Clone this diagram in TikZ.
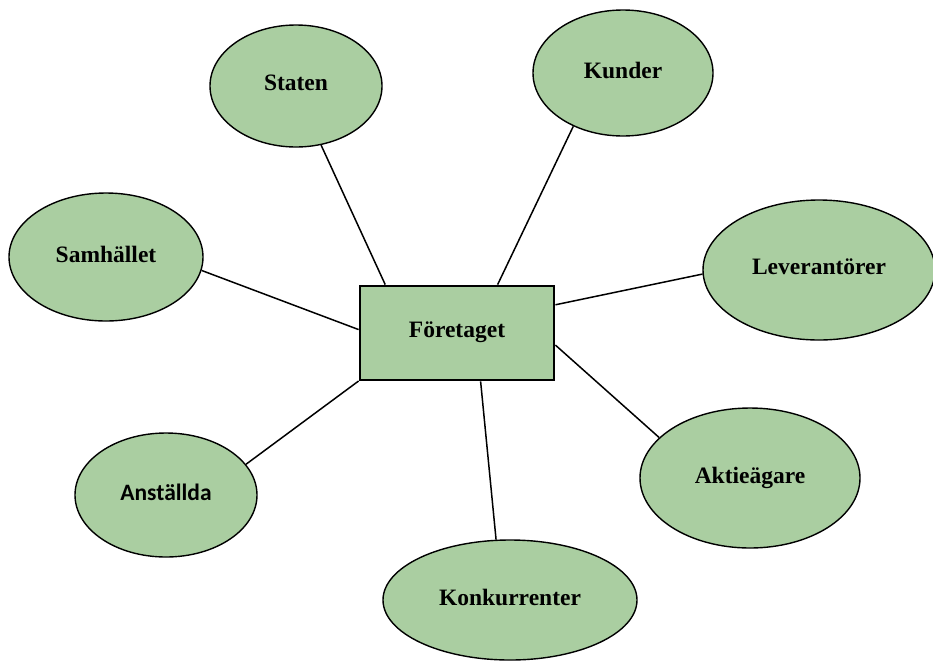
\documentclass[tikz,border=0pt]{standalone}
\usepackage{fontspec}
\setmainfont{Liberation Serif}
\newfontfamily\carlitofont{Carlito}
\usetikzlibrary{shapes.geometric}
\definecolor{sage}{RGB}{170,206,161}
\tikzset{
  oval/.style={ellipse, draw=black, line width=1.4pt, fill=sage, inner sep=0pt,
    font=\fontsize{23.5}{28}\selectfont\bfseries},
  hub/.style={rectangle, draw=black, line width=2.8pt, fill=sage, inner sep=0pt,
    minimum width=194pt, minimum height=94pt, font=\fontsize{23.5}{28}\selectfont\bfseries},
  link/.style={line width=1.5pt, black}
}
\newcommand{\up}[1]{\raisebox{6pt}{#1}}
\begin{document}
\begin{tikzpicture}[x=1pt,y=-1pt]
\useasboundingbox (0,0) rectangle (933,662);
\fill[white] (0,0) rectangle (933,662);
\node[hub] (firm) at (457,333) {\up{Företaget}};
\node[oval, minimum width=172pt, minimum height=122pt] (staten) at (296,86) {\up{Staten}};
\node[oval, minimum width=180pt, minimum height=126pt] (kunder) at (623,73) {\up{Kunder}};
\node[oval, minimum width=194pt, minimum height=128pt] (samh) at (106,257) {\up{Samhället}};
\node[oval, minimum width=232pt, minimum height=140pt] (lev) at (819,270) {\up{Leverantörer}};
\node[oval, minimum width=182pt, minimum height=124pt] (anst) at (166,495) {\up{\carlitofont Anställda}};
\node[oval, minimum width=220pt, minimum height=140pt] (akt) at (750,478) {\up{Aktieägare}};
\node[oval, minimum width=254pt, minimum height=120pt] (konk) at (510,600) {\up{Konkurrenter}};
\draw[link] (staten.-67.2) -- (firm.146.1);
\draw[link] (kunder.227.7) -- (firm.50.2);
\draw[link] (samh.-8.2) -- (firm.178.8);
\draw[link] (lev.182.5) -- (firm.16.6);
\draw[link] (anst.21.3) -- (firm.206.3);
\draw[link] (akt.156.2) -- (firm.-7.6);
\draw[link] (konk.103.1) -- (firm.-64.4);
\end{tikzpicture}
\end{document}
